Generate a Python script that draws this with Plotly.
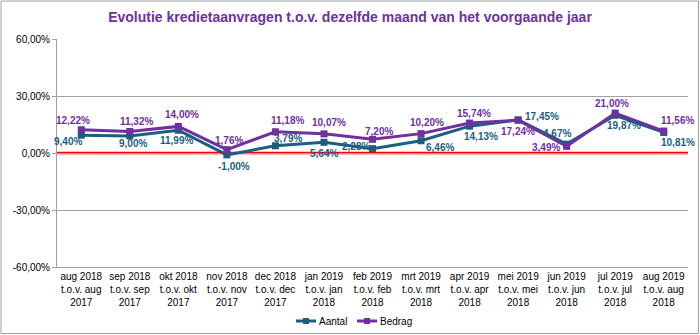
import plotly.graph_objects as go

categories = [
    "aug 2018<br>t.o.v. aug<br>2017", "sep 2018<br>t.o.v. sep<br>2017",
    "okt 2018<br>t.o.v. okt<br>2017", "nov 2018<br>t.o.v. nov<br>2017",
    "dec 2018<br>t.o.v. dec<br>2017", "jan 2019<br>t.o.v. jan<br>2018",
    "feb 2019<br>t.o.v. feb<br>2018", "mrt 2019<br>t.o.v. mrt<br>2018",
    "apr 2019<br>t.o.v. apr<br>2018", "mei 2019<br>t.o.v. mei<br>2018",
    "jun 2019<br>t.o.v. jun<br>2018", "jul 2019<br>t.o.v. jul<br>2018",
    "aug 2019<br>t.o.v. aug<br>2018",
]
aantal = [9.40, 9.00, 11.99, -1.00, 3.79, 5.64, 2.28, 6.46, 14.13, 17.45, 4.67, 19.87, 10.81]
bedrag = [12.22, 11.32, 14.00, 1.76, 11.18, 10.07, 7.20, 10.20, 15.74, 17.24, 3.49, 21.00, 11.56]
series_names = ["Aantal", "Bedrag"]
y_ticks = [-60, -30, 0, 30, 60]
y_ticktext = ["-60,00%", "-30,00%", "0,00%", "30,00%", "60,00%"]

# data-label offsets in pixels (dx right, dy down) relative to each point
off_aantal = [(-13, 6), (3, 8), (-2, 10), (7, 12), (13, -7), (0, 11), (-17, -2),
              (19, 7), (11, 10), (24, -3), (-10, -11), (9, 10), (14, 10)]
off_bedrag = [(-8, -9), (7, -10), (4, -12), (2, -9), (12, -11), (5, -11), (6, -8),
              (6, -11), (4, -10), (0, 11), (-21, 1), (-3, -10), (14, -11)]

c_aantal = "#1B5E7E"
c_bedrag = "#7030A0"
x_idx = list(range(len(categories)))
lbl_font = "Liberation Sans, Arial"

fig = go.Figure()
for name, vals, col, offs in [(series_names[0], aantal, c_aantal, off_aantal),
                              (series_names[1], bedrag, c_bedrag, off_bedrag)]:
    fig.add_trace(go.Scatter(
        x=x_idx, y=vals, name=name, mode="lines+markers",
        line=dict(color=col, width=3), marker=dict(symbol="square", size=7, color=col),
        cliponaxis=False, showlegend=False,
    ))
    for xi, v, (dx, dy) in zip(x_idx, vals, offs):
        fig.add_annotation(x=xi, y=v, xref="x", yref="y", showarrow=False,
                           text=f"{v:.2f}".replace(".", ",") + "%",
                           xanchor="center", yanchor="middle", xshift=dx, yshift=-dy,
                           font=dict(family=lbl_font, size=10, color=col, weight="bold"))

L, R, T, B = 57, 12, 39, 68
W, H = 700, 335
pw, ph = W - L - R, H - T - B


def px(x):
    return (x - L) / pw


def py(y):
    return 1 - (y - T) / ph


fig.update_layout(
    width=W, height=H, margin=dict(l=L, r=R, t=T, b=B, autoexpand=False),
    paper_bgcolor="white", plot_bgcolor="white",
    font=dict(family=lbl_font, size=10, color="#000000"),
    title=dict(text="<b>Evolutie kredietaanvragen t.o.v. dezelfde maand van het voorgaande jaar</b>",
               x=0.5, xanchor="center", y=1 - 17 / H, yanchor="middle",
               font=dict(family=lbl_font, size=14, color=c_bedrag)),
    showlegend=False,
    xaxis=dict(tickmode="array", tickvals=x_idx, ticktext=categories, range=[-0.5, 12.5],
               showgrid=False, showline=True, linecolor="#A0A0A0", linewidth=1,
               ticks="", tickfont=dict(size=10), zeroline=False, fixedrange=True,
               automargin=False),
    yaxis=dict(range=[-60, 60], tickvals=y_ticks, ticktext=y_ticktext,
               showgrid=True, gridcolor="#A0A0A0", gridwidth=1,
               showline=True, linecolor="#A0A0A0", linewidth=1,
               ticks="outside", ticklen=4, tickcolor="#A0A0A0",
               zeroline=False, tickfont=dict(size=10), fixedrange=True,
               automargin=False),
)

# red zero line (above the grid, below the series)
fig.add_shape(type="line", xref="paper", yref="y", x0=0, x1=1, y0=0, y1=0,
              line=dict(color="#FF0000", width=2.5), layer="between")
# outer chart border
fig.add_shape(type="rect", xref="paper", yref="paper",
              x0=px(1), x1=px(W - 1.5), y0=py(H - 1.5), y1=py(1),
              line=dict(color="#A0A0A0", width=1))

# compact legend (Excel style)
leg_y = 321
for name, col, x0 in [(series_names[0], c_aantal, 296), (series_names[1], c_bedrag, 357)]:
    fig.add_shape(type="line", xref="paper", yref="paper",
                  x0=px(x0), x1=px(x0 + 20), y0=py(leg_y), y1=py(leg_y),
                  line=dict(color=col, width=3))
    fig.add_shape(type="rect", xref="paper", yref="paper",
                  x0=px(x0 + 7), x1=px(x0 + 13), y0=py(leg_y + 3), y1=py(leg_y - 3),
                  line=dict(width=0), fillcolor=col)
    fig.add_annotation(xref="paper", yref="paper", x=px(x0 + 21), y=py(leg_y),
                       text=name, showarrow=False, xanchor="left", yanchor="middle",
                       font=dict(size=10, color="#000000"))

fig.write_html("out.html")
